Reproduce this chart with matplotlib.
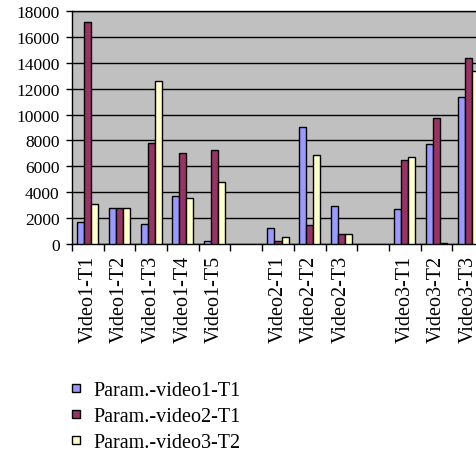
import matplotlib.pyplot as plt
from matplotlib.lines import Line2D
import numpy as np

categories = ["Video1-T1", "Video1-T2", "Video1-T3", "Video1-T4", "Video1-T5", "",
              "Video2-T1", "Video2-T2", "Video2-T3", "",
              "Video3-T1", "Video3-T2", "Video3-T3"]
series_names = ["Param.-video1-T1", "Param.-video2-T1", "Param.-video3-T2"]
video1_t1 = [1680, 2810, 1520, 3690, 200, np.nan, 1210, 9070, 2940, np.nan, 2700, 7700, 11380]
video2_t1 = [17150, 2810, 7780, 7060, 7240, np.nan, 230, 1440, 750, np.nan, 6490, 9760, 14400]
video3_t2 = [3065, 2810, 12600, 3580, 4820, np.nan, 520, 6880, 750, np.nan, 6720, 50, 13370]
colors = ["#9999FF", "#993366", "#FFFFCC"]

plt.rcParams['font.family'] = ['Liberation Serif', 'DejaVu Serif']

fig = plt.figure(figsize=(4.76, 4.56), dpi=100)
ax = fig.add_axes([72 / 476, 211 / 456, 412 / 476, 233 / 456])
ax.set_facecolor("#C0C0C0")

x = np.arange(len(categories))
w = 1 / 4.5
for k, (vals, c) in enumerate(zip([video1_t1, video2_t1, video3_t2], colors)):
    ax.bar(x + (k - 1) * w, vals, width=w, color=c, edgecolor="black",
           linewidth=1, zorder=3)

ax.set_xlim(-0.5, len(categories) - 0.5)
ax.set_ylim(0, 18000)
ax.set_yticks(np.arange(0, 18001, 2000))
ax.yaxis.grid(True, color="black", linewidth=1, zorder=1)
ax.set_axisbelow(True)

ax.set_xticks(x)
ax.set_xticklabels(categories, rotation=90, fontsize=14.5)
ax.set_xticks(np.arange(-0.5, len(categories)), minor=True)
ax.tick_params(axis="x", which="major", length=0, pad=8)
ax.tick_params(axis="x", which="minor", length=5, width=1, direction="out")
ax.tick_params(axis="y", length=4, width=1, direction="out", labelsize=12.5, pad=5)

for s in ["left", "bottom", "top"]:
    ax.spines[s].set_color("black")
    ax.spines[s].set_linewidth(1)
ax.spines["right"].set_visible(False)

handles = [Line2D([], [], linestyle="none", marker="s", markersize=5.5,
                  markerfacecolor=c, markeredgecolor="black", markeredgewidth=1)
           for c in colors]
fig.legend(handles, series_names, loc="upper left",
           bbox_to_anchor=(72 / 476, 1 - 382 / 456),
           frameon=False, fontsize=14.5, handlelength=0.4,
           handletextpad=0.65, labelspacing=0.33, borderaxespad=0, borderpad=0)

fig.savefig("out.png", dpi=100)
